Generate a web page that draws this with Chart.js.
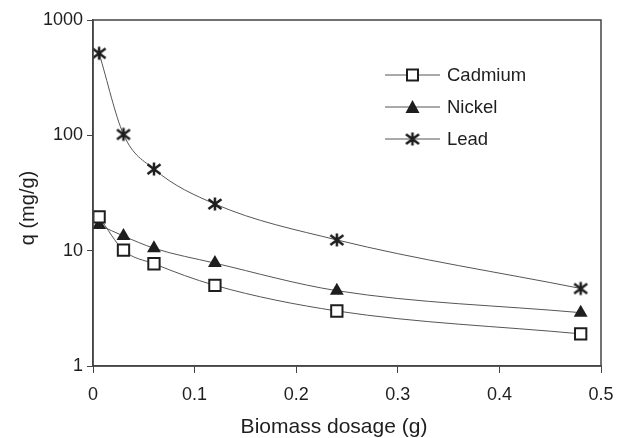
<!DOCTYPE html>
<html>
<head>
<meta charset="utf-8">
<script src="https://cdn.jsdelivr.net/npm/chart.js@4.4.0/dist/chart.umd.min.js"></script>
<style>
  html, body { margin: 0; padding: 0; background: #fff; }
  #wrap { width: 625px; height: 438px; position: relative; }
</style>
</head>
<body>
<div id="wrap"><canvas id="chart"></canvas></div>
<script>
// Biomass dosage vs uptake q, log scale
const dosage = [0.006, 0.03, 0.06, 0.12, 0.24, 0.48];
const cadmium = [19.6, 10.1, 7.7, 5.0, 3.0, 1.9];
const nickel = [16.7, 13.4, 10.5, 7.8, 4.5, 2.9];
const lead = [515, 102, 51, 25.4, 12.4, 4.7];
const seriesNames = ['Cadmium', 'Nickel', 'Lead'];
const xTicks = [0, 0.1, 0.2, 0.3, 0.4, 0.5];
const yTicks = [1, 10, 100, 1000];
const xTitle = 'Biomass dosage (g)';
const yTitle = 'q (mg/g)';

const FONT = 'Liberation Sans, Arial, sans-serif';
const INK = '#1e1e1e';
const LINE = '#555';

// asterisk marker: X with a vertical bar
function makeAsterisk(size) {
    const c = document.createElement('canvas');
    c.width = size; c.height = size;
    const g = c.getContext('2d');
    const m = size / 2, r = size / 2 - 1.5;
    g.strokeStyle = INK;
    g.lineWidth = 2.5;
    g.beginPath();
    g.moveTo(m - r, m - r * 0.75); g.lineTo(m + r, m + r * 0.75);
    g.moveTo(m + r, m - r * 0.75); g.lineTo(m - r, m + r * 0.75);
    g.moveTo(m, m - r); g.lineTo(m, m + r);
    g.stroke();
    return c;
}
const starImg = makeAsterisk(16);

function toPoints(ys) {
    return dosage.map((x, i) => ({ x: x, y: ys[i] }));
}

const lineStyle = {
    borderColor: LINE,
    borderWidth: 1,
    cubicInterpolationMode: 'monotone',
    fill: false
};

// box round plot, axis titles, legend inside the plot area
const framePlugin = {
    id: 'frame',
    afterDraw(chart) {
        const ctx = chart.ctx;
        const a = chart.chartArea;
        ctx.save();
        ctx.strokeStyle = '#444';
        ctx.lineWidth = 1.5;
        ctx.strokeRect(a.left, a.top, a.right - a.left, a.bottom - a.top);

        // axis titles
        ctx.fillStyle = INK;
        ctx.font = '21px ' + FONT;
        ctx.textAlign = 'center';
        ctx.textBaseline = 'alphabetic';
        ctx.fillText(xTitle, 334, 433);
        ctx.save();
        ctx.translate(34, 208);
        ctx.rotate(-Math.PI / 2);
        ctx.font = '20px ' + FONT;
        ctx.fillText(yTitle, 0, 0);
        ctx.restore();

        // legend
        const x0 = a.left + 292, x1 = a.left + 347, mx = (x0 + x1) / 2;
        const rows = [a.top + 55, a.top + 87, a.top + 119];
        ctx.font = '18.5px ' + FONT;
        ctx.textAlign = 'left';
        ctx.textBaseline = 'middle';
        rows.forEach((y, i) => {
            ctx.strokeStyle = LINE;
            ctx.lineWidth = 1;
            ctx.beginPath();
            ctx.moveTo(x0, y); ctx.lineTo(x1, y);
            ctx.stroke();
            if (i === 0) {
                ctx.fillStyle = '#fff';
                ctx.fillRect(mx - 5.5, y - 5.5, 11, 11);
                ctx.strokeStyle = INK;
                ctx.lineWidth = 2;
                ctx.strokeRect(mx - 5.5, y - 5.5, 11, 11);
            } else if (i === 1) {
                ctx.fillStyle = INK;
                ctx.beginPath();
                ctx.moveTo(mx, y - 7); ctx.lineTo(mx + 7, y + 6); ctx.lineTo(mx - 7, y + 6);
                ctx.closePath();
                ctx.fill();
            } else {
                ctx.drawImage(starImg, mx - 8, y - 8);
            }
            ctx.fillStyle = INK;
            ctx.fillText(seriesNames[i], x1 + 7, y + 1);
        });
        ctx.restore();
    }
};

new Chart(document.getElementById('chart').getContext('2d'), {
    type: 'line',
    data: {
        datasets: [{
            label: seriesNames[0],
            data: toPoints(cadmium),
            pointStyle: 'rect',
            pointRadius: 8,
            pointBackgroundColor: '#fff',
            pointBorderColor: INK,
            pointBorderWidth: 2,
            ...lineStyle
        }, {
            label: seriesNames[1],
            data: toPoints(nickel),
            pointStyle: 'triangle',
            pointRadius: 8,
            pointBackgroundColor: INK,
            pointBorderColor: INK,
            pointBorderWidth: 0,
            ...lineStyle
        }, {
            label: seriesNames[2],
            data: toPoints(lead),
            pointStyle: starImg,
            ...lineStyle
        }]
    },
    options: {
        responsive: true,
        maintainAspectRatio: false,
        animation: false,
        layout: { padding: { left: 0, right: 24, top: 20, bottom: 0 } },
        plugins: { legend: { display: false }, tooltip: { enabled: false } },
        scales: {
            x: {
                type: 'linear',
                min: 0, max: 0.5,
                afterBuildTicks: s => { s.ticks = xTicks.map(v => ({ value: v })); },
                afterFit: s => { s.height = 72; },
                ticks: {
                    color: INK,
                    font: { family: FONT, size: 18 },
                    padding: 11,
                    callback: v => String(v)
                },
                grid: { drawOnChartArea: false, drawTicks: true, tickLength: 7, color: '#444' },
                border: { display: true, color: '#444', width: 1.5 }
            },
            y: {
                type: 'logarithmic',
                min: 1, max: 1000,
                afterBuildTicks: s => { s.ticks = yTicks.map(v => ({ value: v })); },
                afterFit: s => { s.width = 93; },
                ticks: {
                    color: INK,
                    font: { family: FONT, size: 18 },
                    padding: 4,
                    callback: v => String(v)
                },
                grid: { drawOnChartArea: false, drawTicks: true, tickLength: 6, color: '#444' },
                border: { display: true, color: '#444', width: 1.5 }
            }
        }
    },
    plugins: [framePlugin]
});
</script>
</body>
</html>
